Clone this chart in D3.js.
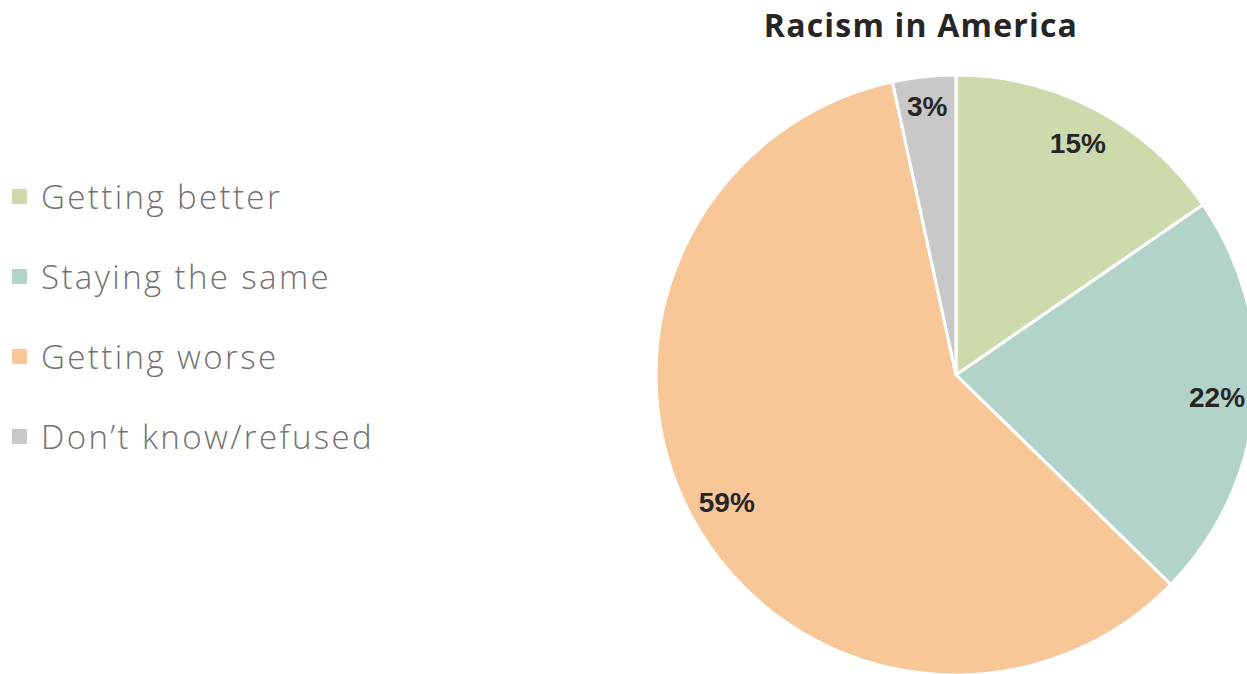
<!DOCTYPE html>
<html>
<head>
<meta charset="utf-8">
<script src="https://cdn.jsdelivr.net/npm/d3@7"></script>
<style>
  html, body { margin: 0; padding: 0; background: #fff; overflow: hidden; }
</style>
</head>
<body>
<svg id="chart" width="1247" height="674"></svg>
<script>
// chart data
var categories = ["Getting better", "Staying the same", "Getting worse", "Don\u2019t know/refused"];
var values = [15.4, 21.9, 59.3, 3.4];
var valueLabels = ["15%", "22%", "59%", "3%"];
var colors = ["#cddaac", "#b1d3c8", "#f7c798", "#c8c8c8"];
var title = "Racism in America";

var width = 1247,
	height = 674,
	cx = 956,
	cy = 375,
	radius = 300;

var svg = d3.select("#chart");

var data = categories.map(function (c, i) {
	return { name: c, value: values[i], label: valueLabels[i], color: colors[i] };
});

var pie = d3.pie().sort(null).value(function (d) { return d.value; });
var arc = d3.arc().innerRadius(0).outerRadius(radius);
var labelArc = d3.arc().innerRadius(262).outerRadius(262);

var g = svg.append("g").attr("transform", "translate(" + cx + "," + cy + ")");

var slices = pie(data);

g.selectAll("path")
	.data(slices)
	.enter()
	.append("path")
	.attr("d", arc)
	.attr("fill", function (d) { return d.data.color; })
	.attr("stroke", "#fff")
	.attr("stroke-width", 3)
	.attr("stroke-linejoin", "round");

// value labels
g.selectAll("text.val")
	.data(slices)
	.enter()
	.append("text")
	.attr("class", "val")
	.attr("transform", function (d) {
		var c = labelArc.centroid(d);
		// the thin slice label sits a little further out
		if (d.data.value < 5) c = [c[0] * 1.03, c[1] * 1.03];
		return "translate(" + c + ")";
	})
	.attr("text-anchor", "middle")
	.attr("dy", "0.35em")
	.style("font-family", "'Liberation Sans', Arial, sans-serif")
	.style("font-weight", "bold")
	.style("font-size", "28px")
	.style("fill", "#262626")
	.text(function (d) { return d.data.label; });

// title
svg.append("text")
	.attr("x", 921)
	.attr("y", 37)
	.attr("text-anchor", "middle")
	.style("font-family", "'Open Sans', sans-serif")
	.style("font-weight", "bold")
	.style("font-size", "32px")
	.style("letter-spacing", "1.2px")
	.style("fill", "#262626")
	.text(title);

// legend
var legend = svg.append("g");
var rows = legend.selectAll("g")
	.data(data)
	.enter()
	.append("g")
	.attr("transform", function (d, i) { return "translate(12," + (197 + i * 80) + ")"; });

rows.append("rect")
	.attr("x", 0)
	.attr("y", -8)
	.attr("width", 15)
	.attr("height", 15)
	.attr("fill", function (d) { return d.color; });

rows.append("text")
	.attr("x", 29)
	.attr("y", 0)
	.attr("dy", "0.35em")
	.style("font-family", "'Open Sans', sans-serif")
	.style("font-weight", 300)
	.style("font-size", "33px")
	.style("letter-spacing", "2.4px")
	.style("font-variant-ligatures", "none")
	.style("fill", "#727272")
	.text(function (d) { return d.name; });
</script>
</body>
</html>
